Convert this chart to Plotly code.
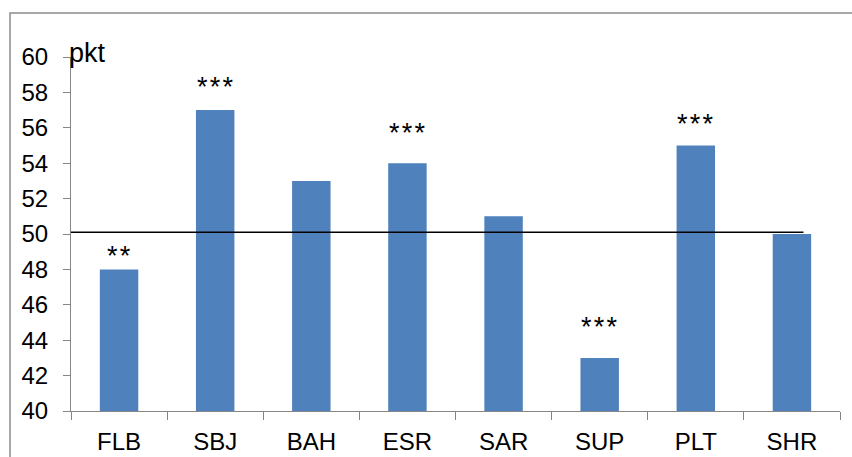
import plotly.graph_objects as go

# Scores per scale
categories = ["FLB", "SBJ", "BAH", "ESR", "SAR", "SUP", "PLT", "SHR"]
values = [48, 57, 53, 54, 51, 43, 55, 50]

# Significance markers and the height at which each is printed
sig_categories = ["FLB", "SBJ", "ESR", "SUP", "PLT"]
sig_labels = ["**", "***", "***", "***", "***"]
sig_heights = [48.9, 58.5, 55.9, 44.9, 56.4]

# Reference level (norm) and its horizontal extent in category units
ref_level = 50.1
ref_span = [-0.5, 7.12]

y_ticks = list(range(40, 61, 2))

BAR_COLOR = "#4F81BD"
AXIS_COLOR = "#868686"
FONT = "Liberation Sans, Arial, sans-serif"

fig = go.Figure()
fig.add_trace(go.Bar(
    x=categories, y=values, width=0.4,
    marker=dict(color=BAR_COLOR, line=dict(width=0)),
    hoverinfo="x+y", showlegend=False,
))

for cat, lab, h in zip(sig_categories, sig_labels, sig_heights):
    fig.add_annotation(
        x=cat, y=h, xref="x", yref="y",
        text="\u200a".join(lab), showarrow=False,
        font=dict(family=FONT, size=27, color="black"),
        yanchor="middle", yshift=-3,
    )

# Norm line
fig.add_shape(type="line", xref="x", yref="y",
              x0=ref_span[0], x1=ref_span[1], y0=ref_level, y1=ref_level,
              line=dict(color="black", width=1.5))

# Outer frame of the chart area
fig.add_shape(type="rect", xref="paper", yref="paper",
              x0=-0.0793, x1=1.06, y0=-0.25, y1=1.1243,
              line=dict(color="#8c8c8c", width=1.5), layer="below")

# Unit label
fig.add_annotation(
    x=0, y=1.0, xref="paper", yref="paper", text="pkt", showarrow=False,
    font=dict(family=FONT, size=27, color="black"),
    xanchor="left", yanchor="middle", xshift=-4, yshift=4,
)

fig.update_layout(
    width=852, height=457,
    margin=dict(l=71, r=12, t=57, b=46, autoexpand=False),
    paper_bgcolor="white", plot_bgcolor="white",
    font=dict(family=FONT, size=24, color="black"),
    bargap=0.6,
)
fig.update_xaxes(
    type="category", tickson="boundaries", ticks="outside", ticklen=8,
    tickcolor=AXIS_COLOR, showline=True, linecolor=AXIS_COLOR, linewidth=1,
    showgrid=False, ticklabelstandoff=9, tickfont=dict(size=24),
    range=[-0.5, 7.5], automargin=False,
)
fig.update_yaxes(
    range=[40, 60], tickvals=y_ticks, ticks="outside", ticklen=7,
    tickcolor=AXIS_COLOR, showline=True, linecolor=AXIS_COLOR, linewidth=1,
    showgrid=False, zeroline=False, ticklabelstandoff=10,
    tickfont=dict(size=24), automargin=False,
)

fig.write_html("out.html")
